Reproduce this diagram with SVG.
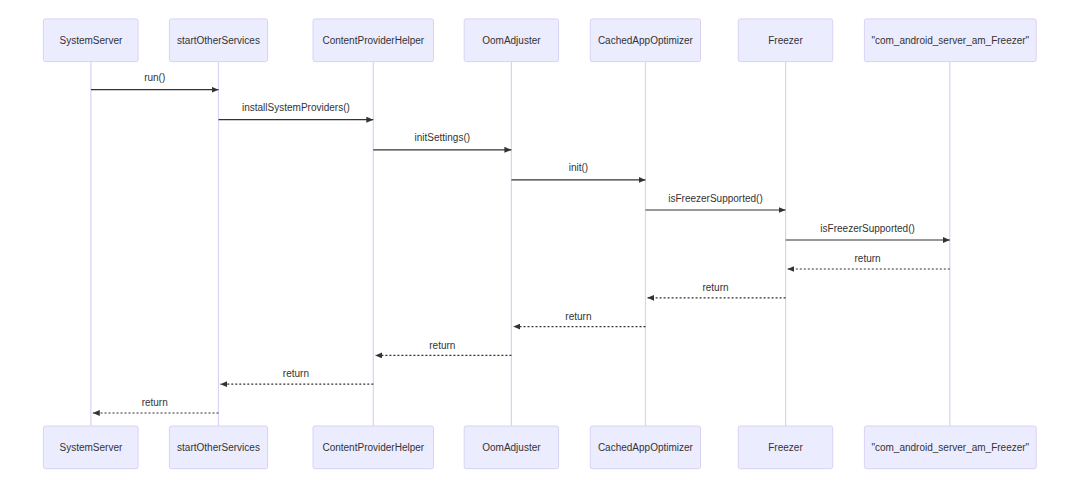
<svg xmlns="http://www.w3.org/2000/svg" width="1080" height="486" viewBox="0 0 1080 486">
<style>
.actor{fill:#ECECFF;stroke:#d9d2f4;stroke-width:1}
.atext{font-family:"Liberation Sans",Arial,sans-serif;font-size:10px;fill:#333;text-anchor:middle;dominant-baseline:central}
.life{stroke:#d9d2f4;stroke-width:1.2;fill:none}
.msg{stroke:#333;stroke-width:1.2;fill:none}
.ret{stroke:#333;stroke-width:1.2;fill:none;stroke-dasharray:2,2}
.mtext{font-family:"Liberation Sans",Arial,sans-serif;font-size:10px;fill:#333;text-anchor:middle}
</style>
<defs>
<marker id="ah" markerUnits="userSpaceOnUse" markerWidth="8" markerHeight="6" refX="7" refY="3" orient="auto">
<path d="M0,0 L7,3 L0,6 z" fill="#333"/>
</marker>
</defs>
<rect width="1080" height="486" fill="#ffffff"/>
<g id="lifelines">
<line class="life" x1="90.9" y1="61.6" x2="90.9" y2="426"/>
<line class="life" x1="218.5" y1="61.6" x2="218.5" y2="426"/>
<line class="life" x1="373.3" y1="61.6" x2="373.3" y2="426"/>
<line class="life" x1="511.4" y1="61.6" x2="511.4" y2="426"/>
<line class="life" x1="645.5" y1="61.6" x2="645.5" y2="426"/>
<line class="life" x1="785.6" y1="61.6" x2="785.6" y2="426"/>
<line class="life" x1="949.8" y1="61.6" x2="949.8" y2="426"/>
</g>
<g id="SystemServer">
<rect class="actor" x="43.4" y="18.9" width="94.7" height="42.7" rx="2"/>
<text class="atext" x="90.9" y="40.2">SystemServer</text>
<rect class="actor" x="43.4" y="426" width="94.7" height="42.7" rx="2"/>
<text class="atext" x="90.9" y="447.3">SystemServer</text>
</g>
<g id="startOtherServices">
<rect class="actor" x="169.4" y="18.9" width="98.2" height="42.7" rx="2"/>
<text class="atext" x="218.5" y="40.2">startOtherServices</text>
<rect class="actor" x="169.4" y="426" width="98.2" height="42.7" rx="2"/>
<text class="atext" x="218.5" y="447.3">startOtherServices</text>
</g>
<g id="ContentProviderHelper">
<rect class="actor" x="313" y="18.9" width="120.5" height="42.7" rx="2"/>
<text class="atext" x="373.3" y="40.2">ContentProviderHelper</text>
<rect class="actor" x="313" y="426" width="120.5" height="42.7" rx="2"/>
<text class="atext" x="373.3" y="447.3">ContentProviderHelper</text>
</g>
<g id="OomAdjuster">
<rect class="actor" x="464.2" y="18.9" width="94.4" height="42.7" rx="2"/>
<text class="atext" x="511.4" y="40.2">OomAdjuster</text>
<rect class="actor" x="464.2" y="426" width="94.4" height="42.7" rx="2"/>
<text class="atext" x="511.4" y="447.3">OomAdjuster</text>
</g>
<g id="CachedAppOptimizer">
<rect class="actor" x="590.3" y="18.9" width="110.2" height="42.7" rx="2"/>
<text class="atext" x="645.4" y="40.2">CachedAppOptimizer</text>
<rect class="actor" x="590.3" y="426" width="110.2" height="42.7" rx="2"/>
<text class="atext" x="645.4" y="447.3">CachedAppOptimizer</text>
</g>
<g id="Freezer">
<rect class="actor" x="738.3" y="18.9" width="94.4" height="42.7" rx="2"/>
<text class="atext" x="785.5" y="40.2">Freezer</text>
<rect class="actor" x="738.3" y="426" width="94.4" height="42.7" rx="2"/>
<text class="atext" x="785.5" y="447.3">Freezer</text>
</g>
<g id="com_android_server_am_Freezer">
<rect class="actor" x="864.4" y="18.9" width="171.8" height="42.7" rx="2"/>
<text class="atext" x="950.3" y="40.2">"com_android_server_am_Freezer"</text>
<rect class="actor" x="864.4" y="426" width="171.8" height="42.7" rx="2"/>
<text class="atext" x="950.3" y="447.3">"com_android_server_am_Freezer"</text>
</g>
<g id="connectors">
<line class="msg" x1="90.9" y1="89.7" x2="218.5" y2="89.7" marker-end="url(#ah)"/>
<text class="mtext" x="154.7" y="81.2">run()</text>
<line class="msg" x1="218.5" y1="119.7" x2="373.3" y2="119.7" marker-end="url(#ah)"/>
<text class="mtext" x="295.9" y="111.2">installSystemProviders()</text>
<line class="msg" x1="373.3" y1="149.8" x2="511.4" y2="149.8" marker-end="url(#ah)"/>
<text class="mtext" x="442.3" y="141.3">initSettings()</text>
<line class="msg" x1="511.4" y1="179.9" x2="645.5" y2="179.9" marker-end="url(#ah)"/>
<text class="mtext" x="578.4" y="171.4">init()</text>
<line class="msg" x1="645.5" y1="210" x2="785.6" y2="210" marker-end="url(#ah)"/>
<text class="mtext" x="715.5" y="201.5">isFreezerSupported()</text>
<line class="msg" x1="785.6" y1="240" x2="949.8" y2="240" marker-end="url(#ah)"/>
<text class="mtext" x="867.6" y="231.5">isFreezerSupported()</text>
<line class="ret" x1="949.8" y1="269" x2="787.4" y2="269" marker-end="url(#ah)"/>
<text class="mtext" x="867.6" y="262.2">return</text>
<line class="ret" x1="785.6" y1="297.8" x2="647.4" y2="297.8" marker-end="url(#ah)"/>
<text class="mtext" x="715.5" y="291">return</text>
<line class="ret" x1="645.5" y1="326.6" x2="513.3" y2="326.6" marker-end="url(#ah)"/>
<text class="mtext" x="578.4" y="319.8">return</text>
<line class="ret" x1="511.4" y1="355.4" x2="375.2" y2="355.4" marker-end="url(#ah)"/>
<text class="mtext" x="442.3" y="348.6">return</text>
<line class="ret" x1="373.3" y1="384.2" x2="220.4" y2="384.2" marker-end="url(#ah)"/>
<text class="mtext" x="295.9" y="377.4">return</text>
<line class="ret" x1="218.5" y1="413" x2="92.8" y2="413" marker-end="url(#ah)"/>
<text class="mtext" x="154.7" y="406.2">return</text>
</g>
</svg>
